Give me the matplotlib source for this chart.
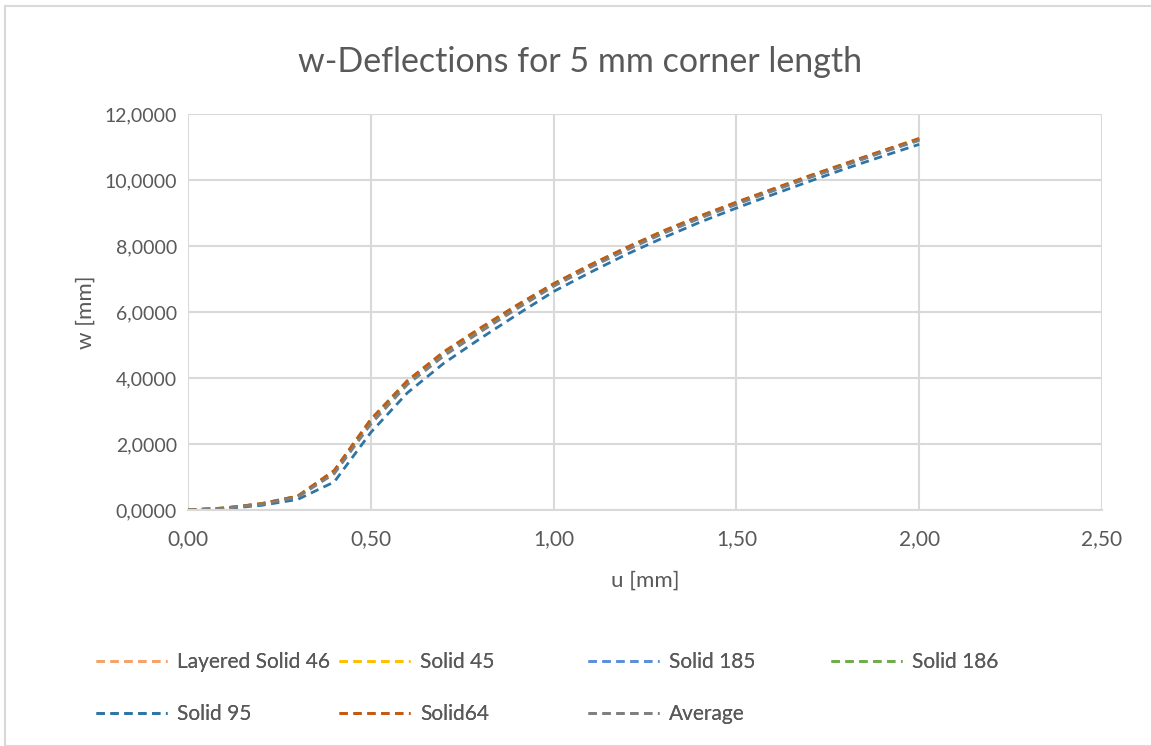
import matplotlib.pyplot as plt
from matplotlib.patches import Rectangle

plt.rcParams["font.family"] = ["Lato", "DejaVu Sans"]

u = [0.0, 0.1, 0.2, 0.3, 0.4, 0.5, 0.6, 0.7, 0.8, 0.9, 1.0,
     1.1, 1.2, 1.3, 1.4, 1.5, 1.6, 1.7, 1.8, 1.9, 2.0]

layered_solid_46 = [0, 0.06, 0.19, 0.42, 1.18, 2.72, 3.90, 4.77, 5.49, 6.19, 6.84,
                    7.41, 7.94, 8.44, 8.89, 9.31, 9.71, 10.11, 10.49, 10.87, 11.24]
solid_45 = [0, 0.06, 0.19, 0.41, 1.17, 2.70, 3.89, 4.76, 5.48, 6.18, 6.83,
            7.40, 7.93, 8.43, 8.88, 9.30, 9.70, 10.10, 10.48, 10.86, 11.23]
solid_185 = [0, 0.06, 0.18, 0.41, 1.16, 2.69, 3.88, 4.75, 5.47, 6.17, 6.82,
             7.39, 7.92, 8.42, 8.87, 9.29, 9.69, 10.09, 10.47, 10.85, 11.22]
solid_186 = [0, 0.06, 0.19, 0.42, 1.19, 2.73, 3.91, 4.78, 5.50, 6.20, 6.85,
             7.42, 7.95, 8.45, 8.90, 9.32, 9.72, 10.12, 10.50, 10.88, 11.25]
solid_95 = [0, 0.04, 0.14, 0.32, 0.85, 2.35, 3.55, 4.45, 5.20, 5.92, 6.62,
            7.20, 7.75, 8.25, 8.72, 9.15, 9.56, 9.96, 10.35, 10.72, 11.08]
solid_64 = [0, 0.06, 0.19, 0.42, 1.20, 2.75, 3.92, 4.80, 5.52, 6.21, 6.86,
            7.43, 7.96, 8.46, 8.91, 9.33, 9.73, 10.13, 10.51, 10.89, 11.26]
average = [0, 0.05, 0.17, 0.39, 1.10, 2.60, 3.80, 4.67, 5.40, 6.10, 6.78,
           7.35, 7.88, 8.38, 8.84, 9.26, 9.67, 10.07, 10.45, 10.84, 11.20]

series = [
    ("Layered Solid 46", layered_solid_46, "#F4A46A"),
    ("Solid 45", solid_45, "#FFC000"),
    ("Solid 185", solid_185, "#5B8FD9"),
    ("Solid 186", solid_186, "#70AD47"),
    ("Solid 95", solid_95, "#2E75A6"),
    ("Solid64", solid_64, "#C55A11"),
    ("Average", average, "#7F7F7F"),
]

x_ticks = [0.0, 0.5, 1.0, 1.5, 2.0, 2.5]
y_ticks = [0, 2, 4, 6, 8, 10, 12]

fig = plt.figure(figsize=(11.51, 7.46), dpi=100)
W, H = 1151, 746
ax = fig.add_axes([188 / W, 1 - 510 / H, (1102 - 188) / W, (510 - 114) / H])

# chart area border
fig.patches.append(Rectangle((5 / W, 0), 1.2, 1 - 6 / H, transform=fig.transFigure,
                             fill=False, edgecolor="#D9D9D9", linewidth=1.5))

lines = []
for name, values, color in series:
    line, = ax.plot(u, values, color=color, linestyle=(0, (3, 2)), linewidth=2.0, label=name)
    lines.append(line)

ax.set_xlim(0, 2.5)
ax.set_ylim(0, 12)
ax.set_xticks(x_ticks)
ax.set_xticklabels([f"{v:.2f}".replace(".", ",") for v in x_ticks])
ax.set_yticks(y_ticks)
ax.set_yticklabels([f"{v:.4f}".replace(".", ",") for v in y_ticks])
ax.grid(color="#D9D9D9", linewidth=1.5)
ax.set_axisbelow(True)
for side in ["top", "right", "left"]:
    ax.spines[side].set_visible(False)
ax.spines["bottom"].set_color("#D9D9D9")
ax.spines["bottom"].set_linewidth(1.5)
ax.tick_params(length=0, colors="#595959")
ax.tick_params(axis="x", labelsize=15, pad=14)
ax.tick_params(axis="y", labelsize=14, pad=8)

ax.set_xlabel("u [mm]", fontsize=16, color="#595959", labelpad=15)
ax.set_ylabel("w [mm]", fontsize=16, color="#595959", labelpad=6)
fig.text(580 / W, 1 - 62 / H, "w-Deflections for 5 mm corner length",
         ha="center", va="center", fontsize=24.5, color="#595959")

# legend laid out in equal-width columns, filled row by row
col_x = [96, 339, 588, 831]
for c, x0 in enumerate(col_x):
    handles = lines[c::4]
    leg = fig.legend(handles=handles, labels=[h.get_label() for h in handles],
                     loc="upper left", bbox_to_anchor=(x0 / W, 1 - 652 / H),
                     frameon=False, fontsize=15, labelcolor="#595959",
                     handlelength=3.4, handletextpad=0.5, labelspacing=1.55,
                     borderpad=0, borderaxespad=0)
    fig.add_artist(leg)

fig.savefig("out.png", dpi=100)
